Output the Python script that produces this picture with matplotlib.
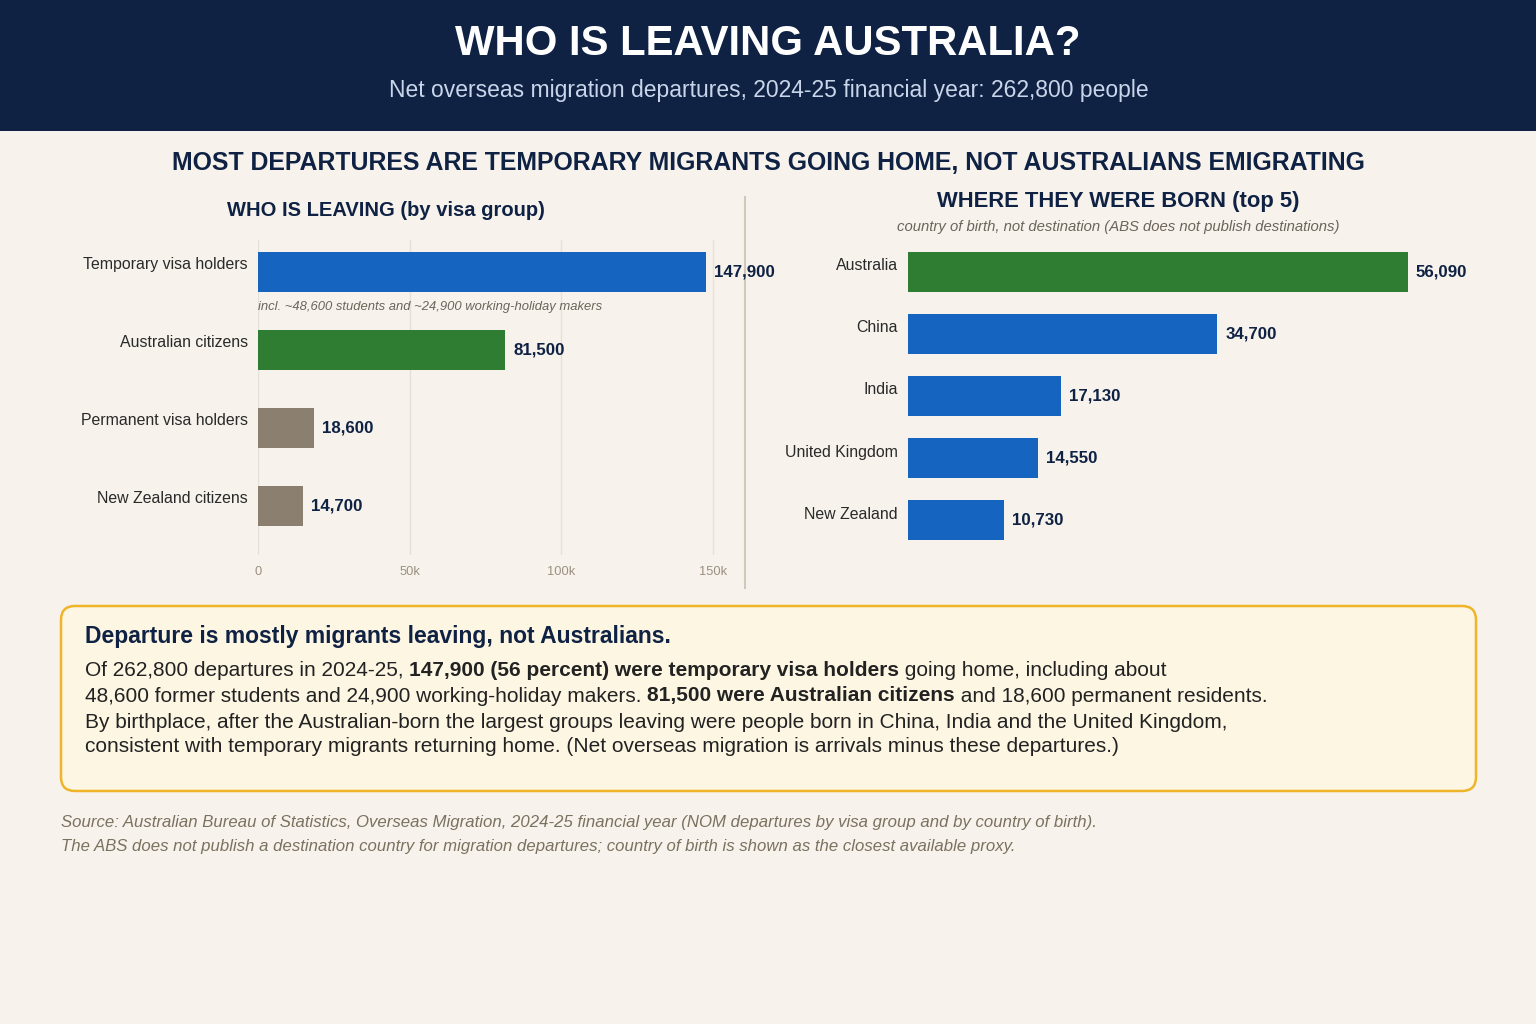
import matplotlib
matplotlib.use("Agg")
import matplotlib.pyplot as plt
from matplotlib.patches import FancyBboxPatch, Rectangle

plt.rcParams['font.family'] = ['Liberation Sans', 'DejaVu Sans']

# data
visa_groups = ["Temporary visa holders", "Australian citizens",
               "Permanent visa holders", "New Zealand citizens"]
visa_values = [147900, 81500, 18600, 14700]
visa_colors = ["#1565c0", "#2e7d32", "#8b8070", "#8b8070"]

birth_countries = ["Australia", "China", "India", "United Kingdom", "New Zealand"]
birth_values = [56090, 34700, 17130, 14550, 10730]
birth_colors = ["#2e7d32", "#1565c0", "#1565c0", "#1565c0", "#1565c0"]

x_ticks = [0, 50000, 100000, 150000]
x_tick_labels = ["0", "50k", "100k", "150k"]

BG = "#f7f3ec"
NAVY = "#0f2244"
W, H = 1536, 1024

fig = plt.figure(figsize=(W / 100, H / 100), dpi=100)
fig.patch.set_facecolor(BG)

# full-figure axes in pixel coords for header, text, box
bg = fig.add_axes([0, 0, 1, 1], zorder=-1)
bg.set_xlim(0, W)
bg.set_ylim(H, 0)
bg.axis("off")

bg.add_patch(Rectangle((0, 0), W, 131, color=NAVY, lw=0))
bg.text(W / 2, 44, "WHO IS LEAVING AUSTRALIA?", color="white", fontsize=30.2,
        fontweight="bold", ha="center", va="center")
bg.text(W / 2 + 1, 90, "Net overseas migration departures, 2024-25 financial year: 262,800 people",
        color="#c9d6ea", fontsize=16.5, ha="center", va="center")
bg.text(W / 2, 163, "MOST DEPARTURES ARE TEMPORARY MIGRANTS GOING HOME, NOT AUSTRALIANS EMIGRATING",
        color=NAVY, fontsize=17.9, fontweight="bold", ha="center", va="center")

bg.text(386, 211, "WHO IS LEAVING (by visa group)", color=NAVY, fontsize=14.5,
        fontweight="bold", ha="center", va="center")
bg.text(1118, 202, "WHERE THEY WERE BORN (top 5)", color=NAVY, fontsize=15.8,
        fontweight="bold", ha="center", va="center")
bg.text(1118, 227, "country of birth, not destination (ABS does not publish destinations)",
        color="#6b6459", fontsize=10.7, style="italic", ha="center", va="center")
bg.plot([745, 745], [197, 588], color="#cfc8bb", lw=1.5)

# left chart
ax1 = fig.add_axes([258 / W, 1 - 555 / H, (734 - 258) / W, (555 - 240) / H])
ax1.set_facecolor("none")
ax1.barh(range(len(visa_groups)), visa_values, height=0.51, color=visa_colors, zorder=2)
ax1.set_xlim(0, 157000)
ax1.set_ylim(3.63, -0.41)
ax1.set_xticks(x_ticks, x_tick_labels)
ax1.set_yticks([])
ax1.grid(axis="x", color="#e6e1d8", lw=1, zorder=0)
ax1.tick_params(axis="x", length=0, labelsize=9.3, labelcolor="#9a9080", pad=8)
for s in ax1.spines.values():
    s.set_visible(False)
for i, (name, v) in enumerate(zip(visa_groups, visa_values)):
    ax1.annotate(name, (0, i), xytext=(-10, 7), textcoords="offset pixels",
                 ha="right", va="center", fontsize=11.4, color="#2a2a2a")
    ax1.annotate(f"{v:,}", (v, i), xytext=(8, 0), textcoords="offset pixels",
                 ha="left", va="center", fontsize=12.2, fontweight="bold", color=NAVY)
ax1.annotate("incl. ~48,600 students and ~24,900 working-holiday makers", (0, 0),
             xytext=(0, -35), textcoords="offset pixels", ha="left", va="center",
             fontsize=9.4, style="italic", color="#6b6459")

# right chart
ax2 = fig.add_axes([908 / W, 1 - 552 / H, (1476 - 908) / W, (552 - 240) / H])
ax2.set_facecolor("none")
ax2.barh(range(len(birth_countries)), birth_values, height=0.645, color=birth_colors, zorder=2)
ax2.set_xlim(0, 63720)
ax2.set_ylim(4.516, -0.516)
ax2.set_xticks([])
ax2.set_yticks([])
for s in ax2.spines.values():
    s.set_visible(False)
for i, (name, v) in enumerate(zip(birth_countries, birth_values)):
    ax2.annotate(name, (0, i), xytext=(-10, 6), textcoords="offset pixels",
                 ha="right", va="center", fontsize=11.4, color="#2a2a2a")
    ax2.annotate(f"{v:,}", (v, i), xytext=(8, 0), textcoords="offset pixels",
                 ha="left", va="center", fontsize=12.2, fontweight="bold", color=NAVY)

# takeaway box
bg.add_patch(FancyBboxPatch((61, 606), 1476 - 61, 791 - 606,
                            boxstyle="round,pad=0,rounding_size=14",
                            fc="#fdf6e3", ec="#f0b429", lw=1.8))
bg.text(85, 637, "Departure is mostly migrants leaving, not Australians.", color=NAVY,
        fontsize=16.5, fontweight="bold", ha="left", va="center")

body_lines = [
    [("Of 262,800 departures in 2024-25, ", False),
     ("147,900 (56 percent) were temporary visa holders", True),
     (" going home, including about", False)],
    [("48,600 former students and 24,900 working-holiday makers. ", False),
     ("81,500 were Australian citizens", True),
     (" and 18,600 permanent residents.", False)],
    [("By birthplace, after the Australian-born the largest groups leaving were people born in China, India and the United Kingdom,", False)],
    [("consistent with temporary migrants returning home. (Net overseas migration is arrivals minus these departures.)", False)],
]
body_y = [670, 696, 722, 747]
renderer = fig.canvas.get_renderer()
for segs, y in zip(body_lines, body_y):
    x = 85
    for seg, bold in segs:
        t = bg.text(x, y, seg, color="#222222", fontsize=15,
                    fontweight="bold" if bold else "normal", ha="left", va="center")
        x += t.get_window_extent(renderer).width

bg.text(61, 823, "Source: Australian Bureau of Statistics, Overseas Migration, 2024-25 financial year "
        "(NOM departures by visa group and by country of birth).",
        color="#7a715f", fontsize=12.1, style="italic", ha="left", va="center")
bg.text(61, 847, "The ABS does not publish a destination country for migration departures; "
        "country of birth is shown as the closest available proxy.",
        color="#7a715f", fontsize=12.1, style="italic", ha="left", va="center")

fig.savefig("out.png", dpi=100, facecolor=BG)
